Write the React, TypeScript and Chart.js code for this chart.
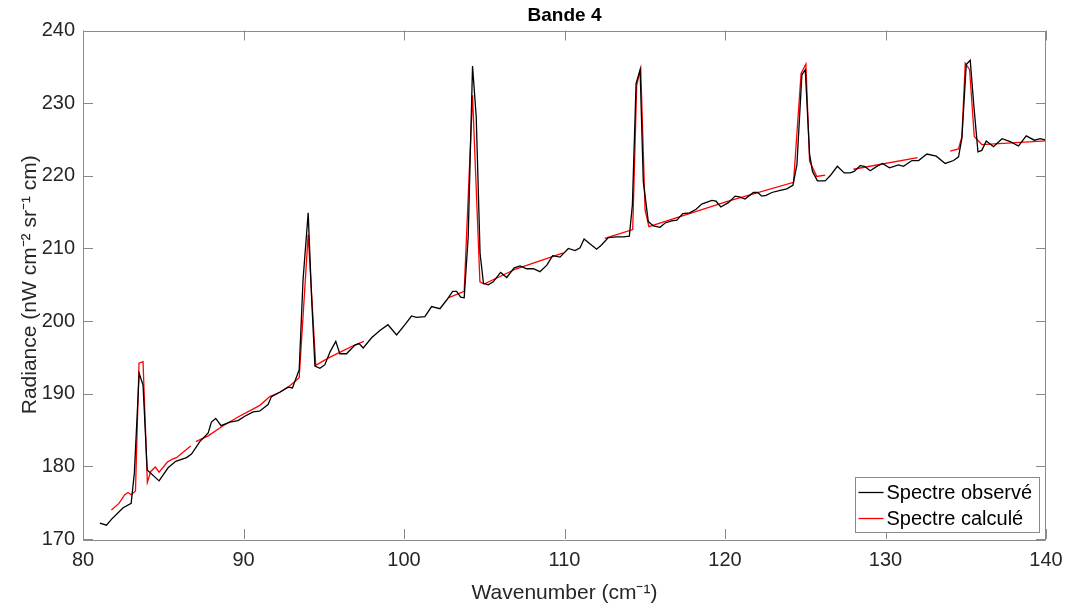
import React, { useEffect, useRef } from "react";
import { Chart, registerables } from "chart.js";

Chart.register(...registerables);

const FONT = '"Liberation Sans", Arial, Helvetica, sans-serif';

const titleText = "Bande 4";
const xLabel = "Wavenumber (cm\u207B\u00B9)";
const yLabel = "Radiance (nW cm\u207B\u00B2 sr\u207B\u00B9 cm)";
const xTicks = [80, 90, 100, 110, 120, 130, 140];
const yTicks = [170, 180, 190, 200, 210, 220, 230, 240];
const legendLabels = ["Spectre observé", "Spectre calculé"];

const obsX = [
  81.05, 81.46, 81.77, 82.5, 83.0, 83.2, 83.5, 83.74, 84.0, 84.74, 85.3, 85.78, 86.45, 86.76,
  87.28, 87.8, 88.0, 88.27, 88.6, 89.15, 89.66, 90.08, 90.6, 91.0, 91.53, 91.74, 92.26, 92.78,
  93.05, 93.47, 93.71, 94.03, 94.24, 94.45, 94.76, 95.07, 95.4, 95.75, 96.0, 96.42, 96.94, 97.2,
  97.46, 97.98, 98.5, 99.0, 99.54, 100.06, 100.47, 100.78, 101.3, 101.72, 102.24, 102.66, 103.03,
  103.28, 103.53, 103.75, 104.0, 104.27, 104.5, 104.74, 104.95, 105.25, 105.56, 106.02, 106.4,
  106.85, 107.23, 107.64, 108.06, 108.47, 108.9, 109.26, 109.72, 110.24, 110.66, 110.97, 111.22,
  111.6, 112.0, 112.32, 112.73, 113.25, 113.67, 114.04, 114.23, 114.46, 114.71, 114.91, 115.22,
  115.54, 115.95, 116.27, 116.68, 117.0, 117.37, 117.79, 118.2, 118.55, 119.18, 119.44, 119.74,
  120.21, 120.63, 120.9, 121.25, 121.77, 122.04, 122.29, 122.56, 122.92, 123.44, 123.85, 124.23,
  124.48, 124.79, 125.0, 125.27, 125.45, 125.76, 126.24, 126.55, 127.0, 127.43, 127.8, 128.05,
  128.42, 128.69, 129.05, 129.46, 129.81, 130.25, 130.81, 131.12, 131.65, 132.06, 132.58, 133.16,
  133.72, 134.24, 134.55, 134.76, 135.03, 135.28, 135.49, 135.76, 136.0, 136.28, 136.73, 137.26,
  137.77, 138.29, 138.77, 139.27, 139.64, 140.0,
];
const obsY = [
  172.2, 171.9, 172.7, 174.3, 174.9, 179.1, 192.8, 191.2, 179.5, 178.0, 179.8, 180.7, 181.2, 181.7,
  183.4, 184.6, 186.1, 186.6, 185.6, 186.1, 186.3, 186.9, 187.5, 187.6, 188.5, 189.6, 190.2, 190.9,
  190.8, 193.3, 205.7, 214.9, 203.4, 193.8, 193.5, 194.0, 195.8, 197.2, 195.5, 195.5, 196.7, 196.9,
  196.3, 197.7, 198.7, 199.5, 198.1, 199.5, 200.7, 200.5, 200.6, 202.0, 201.7, 202.9, 204.1,
  204.1, 203.3, 203.2, 211.6, 235.1, 228.1, 209.3, 205.2, 205.0, 205.4, 206.7, 206.0,
  207.3, 207.6, 207.2, 207.2, 206.8, 207.7, 209.0, 208.8, 210.0, 209.7, 210.1, 211.3,
  210.6, 209.9, 210.5, 211.5, 211.6, 211.6, 211.7, 216.0, 232.7, 234.6, 219.2, 213.7,
  213.1, 212.9, 213.5, 213.8, 213.9, 214.8, 214.9, 215.4, 216.1, 216.6, 216.5, 215.7,
  216.3, 217.2, 217.1, 216.8, 217.7, 217.7, 217.2, 217.3, 217.7, 218.0, 218.2, 218.7,
  221.5, 233.9, 234.6, 223.0, 220.6, 219.3, 219.3, 220.0, 221.3, 220.4, 220.4, 220.6,
  221.4, 221.3, 220.7, 221.3, 221.7, 221.1, 221.5, 221.3, 222.1, 222.1, 223.0, 222.7,
  221.7, 222.1, 222.6, 225.2, 235.3, 235.9, 230.0, 223.3, 223.5, 224.8, 224.0, 225.1,
  224.7, 224.1, 225.5, 224.9, 225.1, 224.9,
];

const calcX = [
  81.77, 82.24, 82.6, 82.8, 83.0, 83.27, 83.49, 83.74, 84.01, 84.22, 84.51, 84.74, 85.26, 85.57,
  85.82, 86.71, 86.9,
  87.03, 87.8, 88.73, 89.66, 91.02, 91.64, 92.26, 92.89, 93.47, 94.03, 94.5, 95.27, 96.0, 96.83,
  97.5, 100.0,
  102.76, 103.75, 104.27, 104.73, 104.98, 107.0, 109.93, 111.0,
  112.51, 114.25, 114.5, 114.75, 115.02, 115.26, 120.2, 124.27, 124.74, 125.04, 125.27, 125.72,
  126.24, 127.0,
  128.0, 132.0, 133.0,
  134.03, 134.55, 134.76, 134.97, 135.24, 135.53, 136.0, 140.0,
];
const calcY = [
  174.0, 174.9, 176.1, 176.4, 176.1, 176.6, 194.2, 194.4, 177.8, 179.3, 179.9, 179.2, 180.6, 181.0,
  181.2, 182.8, null,
  183.4, 184.2, 185.6, 186.8, 188.4, 189.6, 190.2, 191.1, 192.2, 211.9, 193.9, 194.9, 195.7, 196.6,
  197.2, null,
  203.2, 204.1, 231.1, 205.4, 205.1, 207.2, 209.4, null,
  211.4, 212.6, 232.5, 234.8, 215.3, 213.0, 216.5, 219.1, 234.1, 235.4, 222.0, 219.9,
  220.1, null,
  220.9, 222.5, null,
  223.4, 223.7, 225.4, 235.5, 234.6, 225.4, 224.3, 224.8,
];

const AXIS_COLOR = "#8a8a8a";
const TEXT_COLOR = "#262626";

const boxPlugin = {
  id: "matlabBox",
  afterDatasetsDraw(chart: any) {
    const { ctx, chartArea: a, scales } = chart;
    const tl = 10;
    ctx.save();
    ctx.strokeStyle = AXIS_COLOR;
    ctx.lineWidth = 1;
    ctx.beginPath();
    ctx.rect(Math.round(a.left) + 0.5, Math.round(a.top) + 0.5, Math.round(a.right - a.left) - 1, Math.round(a.bottom - a.top));
    ctx.stroke();
    ctx.beginPath();
    for (const t of scales.x.ticks) {
      const px = Math.round(scales.x.getPixelForValue(t.value)) + 0.5;
      ctx.moveTo(px, a.bottom);
      ctx.lineTo(px, a.bottom - tl);
      ctx.moveTo(px, a.top);
      ctx.lineTo(px, a.top + tl);
    }
    for (const t of scales.y.ticks) {
      const py = Math.round(scales.y.getPixelForValue(t.value)) + 0.5;
      ctx.moveTo(a.left, py);
      ctx.lineTo(a.left + tl, py);
      ctx.moveTo(a.right, py);
      ctx.lineTo(a.right - tl, py);
    }
    ctx.stroke();
    ctx.restore();
  },
  afterDraw(chart: any) {
    const { ctx, chartArea: a } = chart;
    ctx.save();
    // title centred over the axes
    ctx.fillStyle = "#000000";
    ctx.font = `bold 19px ${FONT}`;
    ctx.textAlign = "center";
    ctx.textBaseline = "middle";
    ctx.fillText(titleText, (a.left + a.right) / 2, 16);

    const w = 184;
    const h = 55;
    const x0 = Math.round(a.right - 7 - w) + 0.5;
    const y0 = Math.round(a.bottom - 7 - h) + 0.5;
    ctx.fillStyle = "#ffffff";
    ctx.fillRect(x0, y0, w, h);
    ctx.strokeStyle = AXIS_COLOR;
    ctx.lineWidth = 1;
    ctx.strokeRect(x0, y0, w, h);
    const colors = ["#000000", "#ff0000"];
    ctx.font = `20px ${FONT}`;
    ctx.textBaseline = "middle";
    ctx.textAlign = "left";
    legendLabels.forEach((lbl, i) => {
      const yy = y0 + 15 + i * 26;
      ctx.strokeStyle = colors[i];
      ctx.lineWidth = 1.3;
      ctx.beginPath();
      ctx.moveTo(x0 + 3, yy);
      ctx.lineTo(x0 + 28, yy);
      ctx.stroke();
      ctx.fillStyle = "#000000";
      ctx.fillText(lbl, x0 + 31, yy + 1);
    });
    ctx.restore();
  },
};

export default function App() {
  const ref = useRef<HTMLCanvasElement>(null);
  useEffect(() => {
    if (!ref.current) return;
    const chart = new Chart(ref.current, {
      type: "line",
      data: {
        datasets: [
          {
            label: legendLabels[0],
            data: obsX.map((x, i) => ({ x, y: obsY[i] })),
            borderColor: "#000000",
            borderWidth: 1.3,
            pointRadius: 0,
            tension: 0,
            fill: false,
          },
          {
            label: legendLabels[1],
            data: calcX.map((x, i) => ({ x, y: calcY[i] })),
            borderColor: "#ff0000",
            borderWidth: 1.3,
            pointRadius: 0,
            tension: 0,
            fill: false,
            spanGaps: false,
          },
        ],
      },
      options: {
        animation: false,
        responsive: false,
        devicePixelRatio: 1,
        layout: { padding: { left: 0, right: 20, top: 30.5, bottom: 0 } },
        plugins: {
          legend: { display: false },
          tooltip: { enabled: false },
          title: { display: false },
        },
        scales: {
          x: {
            type: "linear",
            min: xTicks[0],
            max: xTicks[xTicks.length - 1],
            afterBuildTicks: (s: any) => {
              s.ticks = xTicks.map((v) => ({ value: v }));
            },
            afterFit: (s: any) => {
              s.height = 69;
              s.paddingLeft = 0;
              s.paddingRight = 0;
            },
            ticks: {
              color: TEXT_COLOR,
              font: { family: FONT, size: 20 },
              padding: 9,
              maxRotation: 0,
            },
            grid: { display: false, drawTicks: false },
            border: { display: false },
            title: {
              display: true,
              text: xLabel,
              color: TEXT_COLOR,
              font: { family: FONT, size: 21 },
              padding: { top: 0, bottom: 2 },
            },
          },
          y: {
            type: "linear",
            min: yTicks[0],
            max: yTicks[yTicks.length - 1],
            afterBuildTicks: (s: any) => {
              s.ticks = yTicks.map((v) => ({ value: v }));
            },
            afterFit: (s: any) => {
              s.width = 83;
              s.paddingTop = 0;
              s.paddingBottom = 0;
            },
            ticks: {
              color: TEXT_COLOR,
              font: { family: FONT, size: 20 },
              padding: 8,
            },
            grid: { display: false, drawTicks: false },
            border: { display: false },
            title: {
              display: true,
              text: yLabel,
              color: TEXT_COLOR,
              font: { family: FONT, size: 21 },
              padding: { top: 18, bottom: 0 },
            },
          },
        },
      },
      plugins: [boxPlugin],
    });
    return () => chart.destroy();
  }, []);
  return (
    <div style={{ position: "fixed", left: 0, top: 0, width: 1066, height: 608, background: "#fff" }}>
      <canvas ref={ref} width={1066} height={608} style={{ display: "block" }} />
    </div>
  );
}
